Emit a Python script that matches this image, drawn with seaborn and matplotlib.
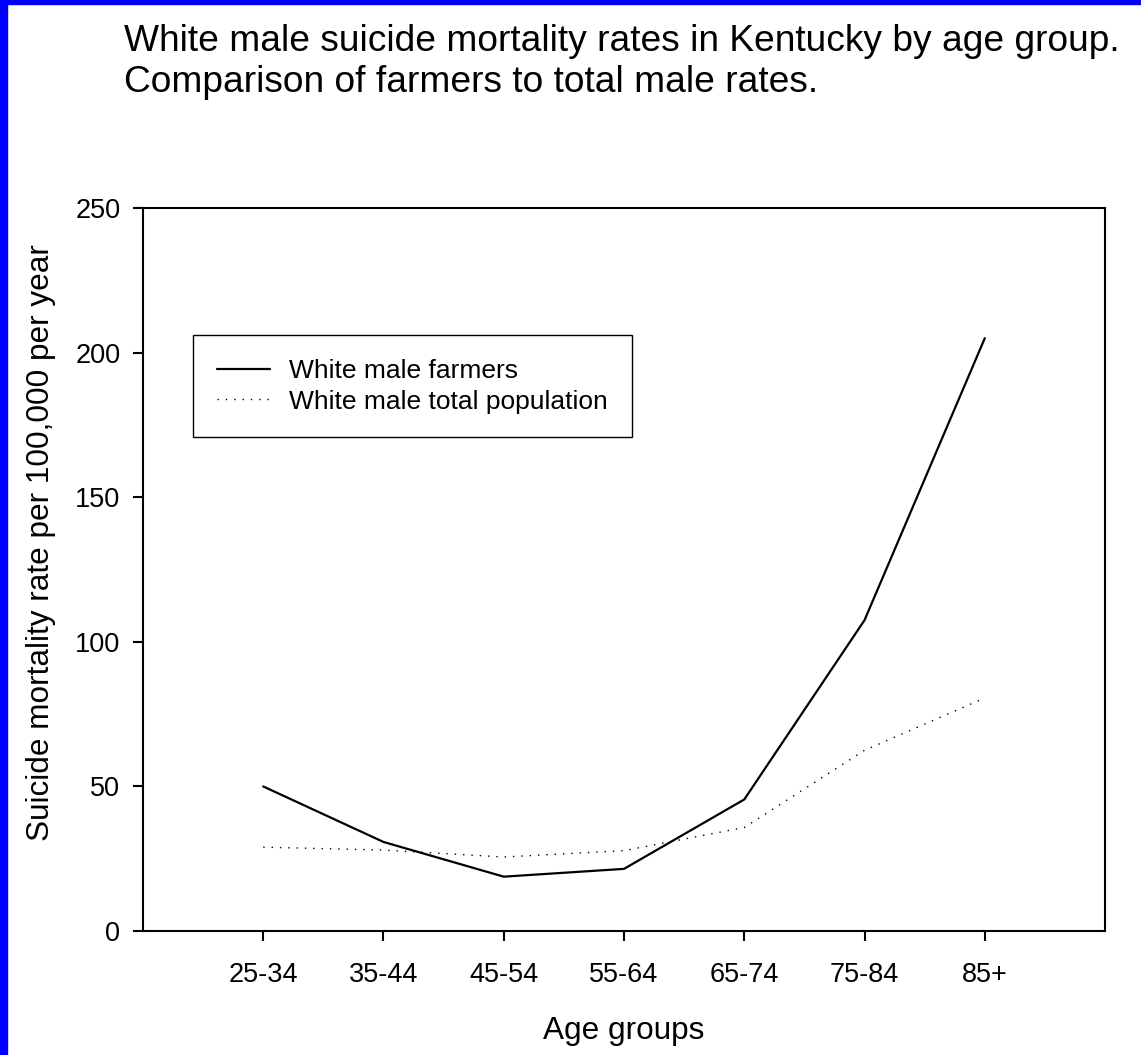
import numpy as np
import pandas as pd
import matplotlib
matplotlib.use("Agg")
import matplotlib.pyplot as plt
import seaborn as sns
from matplotlib.patches import Rectangle

age_groups = ["25-34", "35-44", "45-54", "55-64", "65-74", "75-84", "85+"]
farmers = [50, 30.8, 18.8, 21.5, 45.5, 107.5, 205]
total_pop = [29, 28, 25.6, 27.8, 35.8, 62.5, 80.6]
series_names = ["White male farmers", "White male total population"]
y_ticks = [0, 50, 100, 150, 200, 250]

sns.set_style("ticks")
plt.rcParams['font.family'] = ['Liberation Sans', 'DejaVu Sans']
plt.rcParams['text.color'] = 'black'
plt.rcParams['axes.labelcolor'] = 'black'

df = pd.DataFrame({
    "age": age_groups * 2,
    "rate": farmers + total_pop,
    "series": [series_names[0]] * len(age_groups) + [series_names[1]] * len(age_groups),
})

fig = plt.figure(figsize=(11.41, 10.55), dpi=100)
ax = fig.add_axes([0.1253, 0.1175, 0.8432, 0.6853])

sns.lineplot(data=df, x="age", y="rate", hue="series", style="series",
             palette=["black", "black"],
             dashes={series_names[0]: "", series_names[1]: (1, 5)},
             sort=False, ax=ax)
for ln, lw in zip(ax.lines, [1.6, 1.0]):
    ln.set_linewidth(lw)

ax.set_xlim(-1, 7)
ax.set_ylim(0, 250)
ax.set_yticks(y_ticks)
for sp in ax.spines.values():
    sp.set_visible(True)
    sp.set_linewidth(1.5)
    sp.set_color("black")
ax.tick_params(axis="both", direction="out", length=7.2, width=1.5,
               labelsize=19.5, color="black", labelcolor="black")
ax.tick_params(axis="y", pad=9)
ax.tick_params(axis="x", pad=15)
ax.set_xlabel("Age groups", fontsize=22.7, labelpad=20)
ax.set_ylabel("Suicide mortality rate per 100,000 per year", fontsize=22.7)
ax.yaxis.set_label_coords(-0.090, 0.537)

handles, labels = ax.get_legend_handles_labels()
for h, lw in zip(handles, [1.6, 1.0]):
    h.set_linewidth(lw)
leg = ax.legend(handles, labels, loc="upper left", bbox_to_anchor=(0.052, 0.824),
                borderaxespad=0, fontsize=19, frameon=True, fancybox=False,
                edgecolor="black", framealpha=1, borderpad=0.9,
                handlelength=2.0, handletextpad=0.75, labelspacing=0.25)
leg.get_frame().set_linewidth(1.0)

fig.text(0.1087, 0.977,
         "White male suicide mortality rates in Kentucky by age group.\n"
         "Comparison of farmers to total male rates.",
         fontsize=26.7, va="top", ha="left", linespacing=1.2)

# blue frame on left and top edge
fig.patches.append(Rectangle((0, 0), 7 / 1141, 1, transform=fig.transFigure,
                             color="#0000ff", zorder=10))
fig.patches.append(Rectangle((0, 1 - 4 / 1055), 1, 4 / 1055, transform=fig.transFigure,
                             color="#0000ff", zorder=10))

fig.savefig("out.png", dpi=100)
